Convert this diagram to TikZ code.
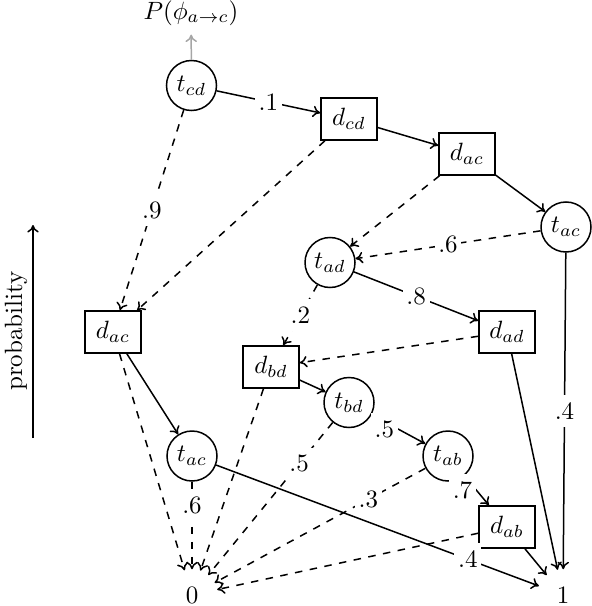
\documentclass[tikz,border=0pt]{standalone}
\usetikzlibrary{arrows.meta}
\begin{document}
\begin{tikzpicture}[x=0.4pt, y=-0.4pt, semithick,
  >={To[length=3pt,width=4.6pt]},
  tnode/.style={circle, draw, minimum size=20pt, inner sep=0pt},
  dnode/.style={rectangle, draw, minimum width=22.4pt, minimum height=16.8pt, inner sep=0pt},
  endnode/.style={circle, minimum size=20pt, inner sep=0pt},
  lbl/.style={fill=white, inner xsep=1.5pt, inner ysep=3pt},
  yes/.style={->},
  no/.style={->, dashed}]
\useasboundingbox (0,0) rectangle (592,606);
% nodes
\node (P) at (191,13) {$P(\phi_{a\to c})$};
\node[tnode] (tcd) at (191.5,85.5) {$t_{cd}$};
\node[dnode] (dcd) at (349,119) {$d_{cd}$};
\node[dnode] (dac2) at (467,154) {$d_{ac}$};
\node[tnode] (tac2) at (566,227) {$t_{ac}$};
\node[tnode] (tad) at (330,262.5) {$t_{ad}$};
\node[dnode] (dac1) at (113,332) {$d_{ac}$};
\node[dnode] (dad) at (507,332) {$d_{ad}$};
\node[dnode] (dbd) at (271,367) {$d_{bd}$};
\node[tnode] (tbd) at (349,402.5) {$t_{bd}$};
\node[tnode] (tac1) at (192,456) {$t_{ac}$};
\node[tnode] (tab) at (448,456) {$t_{ab}$};
\node[dnode] (dab) at (507,527) {$d_{ab}$};
\node[endnode] (zero) at (192,595) {0};
\node[endnode] (one) at (563,595) {1};
% probability axis
\coordinate (pb) at (33,438);
\coordinate (pt) at (33,225);
\draw[->] (pb) -- (pt);
\node[rotate=90] (prob) at (16,331) {probability};
% edges
\draw[->, gray!70] (tcd) -- (P);
\draw[yes] (tcd) -- node[lbl] {.1} (dcd);
\draw[no] (tcd) -- node[lbl] {.9} (dac1);
\draw[no] (dcd) -- (dac1);
\draw[yes] (dcd) -- (dac2);
\draw[no] (dac2) -- (tad);
\draw[yes] (dac2) -- (tac2);
\draw[no] (tac2) -- node[lbl] {.6} (tad);
\draw[yes] (tac2) -- node[lbl] {.4} (one);
\draw[yes] (tad) -- node[lbl] {.8} (dad);
\draw[no] (tad) -- node[lbl] {.2} (dbd);
\draw[no] (dad) -- (dbd);
\draw[yes] (dad) -- (one);
\draw[yes] (dac1) -- (tac1);
\draw[no] (dac1) -- (zero);
\draw[no] (tac1) -- node[lbl, pos=0.27] {.6} (zero);
\draw[yes] (tac1) -- node[lbl, pos=0.78] {.4} (one);
\draw[yes] (dbd) -- (tbd);
\draw[no] (dbd) -- (zero);
\draw[yes] (tbd) -- node[lbl, anchor=east] {.5} (tab);
\draw[no] (tbd) -- node[lbl, pos=0.27] {.5} (zero);
\draw[yes] (tab) -- node[lbl, anchor=east] {.7} (dab);
\draw[no] (tab) -- node[lbl, pos=0.27] {.3} (zero);
\draw[no] (dab) -- (zero);
\draw[yes] (dab) -- (one);
\end{tikzpicture}
\end{document}
